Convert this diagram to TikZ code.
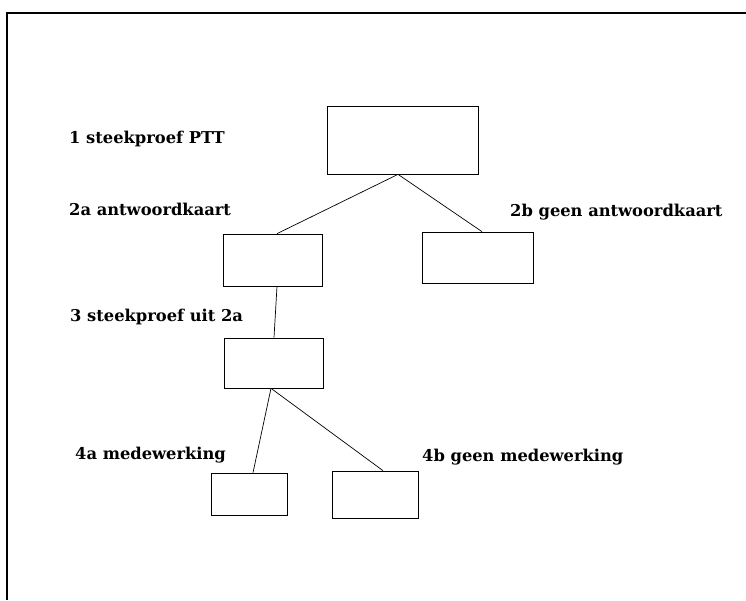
\documentclass[tikz,border=0pt]{standalone}
\usepackage{fontspec}
\setmainfont{DejaVu Serif}
\begin{document}
\begin{tikzpicture}[x=1pt,y=-1pt,
  box/.style={draw, line width=0.7pt, inner sep=0pt},
  lbl/.style={anchor=base west, inner sep=0pt, font=\fontsize{16.3}{19}\selectfont\bfseries},
  conn/.style={line width=0.7pt}]
\useasboundingbox (0,0) rectangle (746,600);
% frame
\draw[line width=1.2pt] (7,600) -- (7,13) -- (746,13);
% boxes
\node[box, minimum width=151pt, minimum height=68pt] (b1) at (402.5,140) {};
\node[box, minimum width=99pt, minimum height=52pt] (b2a) at (272.5,260) {};
\node[box, minimum width=111pt, minimum height=51pt] (b2b) at (477.5,257.5) {};
\node[box, minimum width=99pt, minimum height=50pt] (b3) at (273.5,363) {};
\node[box, minimum width=76pt, minimum height=42pt] (b4a) at (249,494) {};
\node[box, minimum width=86pt, minimum height=47pt] (b4b) at (375,494.5) {};
% labels
\node[lbl] (l1) at (69,143) {1 steekproef PTT};
\node[lbl] (l2a) at (69,215) {2a antwoordkaart};
\node[lbl] (l2b) at (510,216) {2b geen antwoordkaart};
\node[lbl] (l3) at (70,321) {3 steekproef uit 2a};
\node[lbl] (l4a) at (75,459) {4a medewerking};
\node[lbl] (l4b) at (422,461) {4b geen medewerking};
% connectors
\draw[conn] ([xshift=-4.5pt]b1.south) -- ([xshift=4.5pt]b2a.north);
\draw[conn] ([xshift=-4.5pt]b1.south) -- ([xshift=4.5pt]b2b.north);
\draw[conn] ([xshift=4.5pt]b2a.south) -- ([xshift=0.5pt]b3.north);
\draw[conn] ([xshift=-2.5pt]b3.south) -- ([xshift=4pt]b4a.north);
\draw[conn] ([xshift=-2.5pt]b3.south) -- ([xshift=8pt]b4b.north);
\end{tikzpicture}
\end{document}
